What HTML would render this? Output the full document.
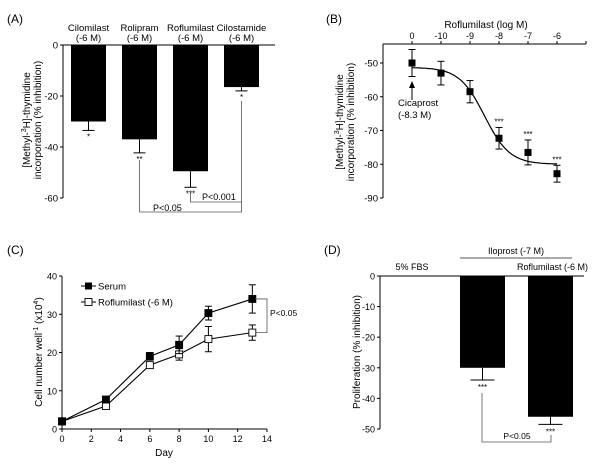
<!DOCTYPE html>
<html><head><meta charset="utf-8"><style>
html,body{margin:0;padding:0;background:#fff}
svg{display:block;font-family:"Liberation Sans",Arial,sans-serif}
</style></head><body>
<svg width="600" height="465" viewBox="0 0 600 465">
<g id="A"></g>
<g id="B"></g>
<g id="C"></g>
<g id="D"></g>
</svg>
<script>
// Panel A data
const aCategories = ["Cilomilast", "Rolipram", "Roflumilast", "Cilostamide"];
const aValues = [-30, -37, -49.5, -16.5];
const aErrors = [3.5, 5.3, 6.3, 1.5];
const aStars = ["*", "**", "***", "*"];
const aTicks = [0, -20, -40, -60];
// Panel B data
const bTickLabels = ["0", "-10", "-9", "-8", "-7", "-6"];
const bValues = [-50, -53, -58.5, -72.3, -76.5, -82.8];
const bErrors = [4, 3.5, 3.3, 3.2, 3.7, 2.5];
const bStars = ["", "", "", "***", "***", "***"];
const bYTicks = [-50, -60, -70, -80, -90];
const bFit = {top: -51.3, bottom: -80, logEC50: -8.5, hill: 1};
// Panel C data
const cDays = [0, 3, 6, 8, 10, 13];
const cSerum = [2, 7.7, 19, 22, 30.3, 34];
const cSerumErr = [0.5, 0.5, 1, 2.3, 1.8, 3.7];
const cRof = [2, 6, 16.7, 19.5, 23.5, 25.2];
const cRofErr = [0.5, 0.5, 0.8, 1.5, 3.3, 2];
const cXTicks = [0, 2, 4, 6, 8, 10, 12, 14];
const cYTicks = [0, 10, 20, 30, 40];
// Panel D data
const dValues = [-30, -46];
const dErrors = [4, 2.5];
const dYTicks = [0, -10, -20, -30, -40, -50];

const NS = "http://www.w3.org/2000/svg";
function mk(parent, tag, attrs, name, text) {
  const el = document.createElementNS(NS, tag);
  for (const k in attrs) el.setAttribute(k, attrs[k]);
  
  
  if (text !== undefined) el.textContent = text;
  parent.appendChild(el);
  return el;
}
function line(p, x1, y1, x2, y2, name, col, w) {
  return mk(p, "line", {x1, y1, x2, y2, stroke: col || "#000", "stroke-width": w || 1}, name);
}
function txt(p, x, y, s, name, opts) {
  opts = opts || {};
  const a = {x, y, "font-size": opts.size || 9.5, "text-anchor": opts.anchor || "middle", fill: "#000"};
  if (opts.rot) a.transform = "rotate(-90 " + x + " " + y + ")";
  return mk(p, "text", a, name, s);
}

// ---------- Panel A ----------
(function () {
  const g = document.getElementById("A");
  const x0 = 63, y0v = 45, k = 153 / 60;
  const ya = v => y0v - v * k;
  const barL = [71, 122, 173, 224], bw = 35;
  txt(g, 7, 23, "(A)", "panel-a-label", {anchor: "start", size: 12});
  line(g, x0, 45, x0, ya(-60), "a-y-axis");
  line(g, x0, 45, 275, 45, "a-zero-line");
  aTicks.forEach(t => {
    line(g, x0 - 3, ya(t), x0, ya(t), "a-y-tick");
    txt(g, x0 - 5, ya(t) + 3.5, String(t), "a-y-tick-label", {anchor: "end"});
  });
  const yl = mk(g, "text", {x: 0, y: 0, "font-size": 10, "text-anchor": "middle", transform: "translate(30 120) rotate(-90)"}, "a-y-axis-title");
  yl.innerHTML = '<tspan x="0" dy="0">[Methyl-<tspan font-size="7" dy="-4">3</tspan><tspan dy="4">H]-thymidine</tspan></tspan><tspan x="0" dy="11">incorporation (% inhibition)</tspan>';
  aCategories.forEach((c, i) => {
    const cx = barL[i] + bw / 2;
    txt(g, cx, 31, c, "a-category-label");
    txt(g, cx, 41, "(-6 M)", "a-category-dose");
    mk(g, "rect", {x: barL[i], y: 45, width: bw, height: ya(aValues[i]) - 45, fill: "#000"}, "a-bar-" + c.toLowerCase());
    const ye = ya(aValues[i] - aErrors[i]);
    line(g, cx, ya(aValues[i]), cx, ye, "a-error-bar");
    line(g, cx - 6, ye, cx + 6, ye, "a-error-cap");
    txt(g, cx, ye + 9, aStars[i], "a-significance-stars", {size: 8});
  });
  const c1 = barL[1] + bw / 2, c2 = barL[2] + bw / 2, c3 = barL[3] + bw / 2;
  mk(g, "polyline", {points: `${c1},160 ${c1},212 ${c3},212 ${c3},101`, fill: "none", stroke: "#555", "stroke-width": 0.8}, "a-bracket-p005");
  mk(g, "polyline", {points: `${c2},192 ${c2},202 ${c3},202`, fill: "none", stroke: "#555", "stroke-width": 0.8}, "a-bracket-p0001");
  txt(g, 153, 211, "P<0.05", "a-p-value-005", {anchor: "start", size: 9});
  txt(g, 202, 200, "P<0.001", "a-p-value-0001", {anchor: "start", size: 9});
})();

// ---------- Panel B ----------
(function () {
  const g = document.getElementById("B");
  const x0 = 383, xs = i => 412 + i * 29;
  const yb = v => 63 - (v + 50) * 3.375;
  txt(g, 326, 23, "(B)", "panel-b-label", {anchor: "start", size: 12});
  line(g, x0, 44, x0, 198, "b-y-axis");
  line(g, x0, 44, 586, 44, "b-top-x-axis");
  line(g, 586, 41, 586, 44, "b-x-axis-end-tick");
  txt(g, 486, 28, "Roflumilast (log M)", "b-x-axis-title", {size: 10});
  bTickLabels.forEach((l, i) => {
    line(g, xs(i), 41, xs(i), 44, "b-x-tick");
    txt(g, xs(i), 39, l, "b-x-tick-label", {size: 9});
  });
  bYTicks.forEach(t => {
    line(g, x0 - 3, yb(t), x0, yb(t), "b-y-tick");
    txt(g, x0 - 5, yb(t) + 3.5, String(t), "b-y-tick-label", {anchor: "end"});
  });
  const yl = mk(g, "text", {x: 0, y: 0, "font-size": 10, "text-anchor": "middle", transform: "translate(343 122) rotate(-90)"}, "b-y-axis-title");
  yl.innerHTML = '<tspan x="0" dy="0">[Methyl-<tspan font-size="7" dy="-4">3</tspan><tspan dy="4">H]-thymidine</tspan></tspan><tspan x="0" dy="11">incorporation (% inhibition)</tspan>';
  let d = "";
  for (let s = 0; s <= 100; s++) {
    const i = s / 20, lx = -11 + i;
    const v = bFit.bottom + (bFit.top - bFit.bottom) / (1 + Math.pow(10, (lx - bFit.logEC50) * bFit.hill));
    d += (s ? "L" : "M") + xs(i).toFixed(1) + " " + yb(v).toFixed(1);
  }
  mk(g, "path", {d, fill: "none", stroke: "#000", "stroke-width": 1.2}, "b-fit-curve");
  bValues.forEach((v, i) => {
    const x = xs(i), e = bErrors[i];
    line(g, x, yb(v + e), x, yb(v - e), "b-error-bar");
    line(g, x - 3.5, yb(v + e), x + 3.5, yb(v + e), "b-error-cap");
    line(g, x - 3.5, yb(v - e), x + 3.5, yb(v - e), "b-error-cap");
    mk(g, "rect", {x: x - 3.5, y: yb(v) - 3.5, width: 7, height: 7, fill: "#000"}, "b-data-point");
    if (bStars[i]) txt(g, x, yb(v + e) - 3, bStars[i], "b-significance-stars", {size: 8});
  });
  line(g, 412, 100, 412, 86, "b-arrow-shaft");
  mk(g, "polygon", {points: "409,88 415,88 412,81", fill: "#000"}, "b-arrow-head");
  txt(g, 398, 106, "Cicaprost", "b-cicaprost-label", {anchor: "start", size: 9.5});
  txt(g, 398, 118, "(-8.3 M)", "b-cicaprost-dose", {anchor: "start", size: 9.5});
})();

// ---------- Panel C ----------
(function () {
  const g = document.getElementById("C");
  const xc = d => 62 + d * 14.64, yc = v => 429 - v * 3.825;
  txt(g, 7, 254, "(C)", "panel-c-label", {anchor: "start", size: 12});
  line(g, 62, yc(40), 62, 429, "c-y-axis");
  line(g, 62, 429, 267, 429, "c-x-axis");
  cXTicks.forEach(t => {
    line(g, xc(t), 429, xc(t), 432, "c-x-tick");
    txt(g, xc(t), 442, String(t), "c-x-tick-label", {size: 9});
  });
  cYTicks.forEach(t => {
    line(g, 59, yc(t), 62, yc(t), "c-y-tick");
    txt(g, 57, yc(t) + 3.5, String(t), "c-y-tick-label", {anchor: "end", size: 9});
  });
  txt(g, 164, 456, "Day", "c-x-axis-title", {size: 10});
  const yl = mk(g, "text", {x: 0, y: 0, "font-size": 10, "text-anchor": "middle", transform: "translate(42 352) rotate(-90)"}, "c-y-axis-title");
  yl.innerHTML = 'Cell number well<tspan font-size="7" dy="-4">-1</tspan><tspan dy="4"> (x10</tspan><tspan font-size="7" dy="-4">4</tspan><tspan dy="4">)</tspan>';
  function series(vals, errs, filled, name) {
    mk(g, "polyline", {points: cDays.map((d, i) => xc(d) + "," + yc(vals[i])).join(" "), fill: "none", stroke: "#000", "stroke-width": 1.1}, name + "-line");
    vals.forEach((v, i) => {
      const x = xc(cDays[i]), e = errs[i];
      line(g, x, yc(v + e), x, yc(v - e), name + "-error-bar");
      line(g, x - 3.5, yc(v + e), x + 3.5, yc(v + e), name + "-error-cap");
      line(g, x - 3.5, yc(v - e), x + 3.5, yc(v - e), name + "-error-cap");
      mk(g, "rect", {x: x - 3.5, y: yc(v) - 3.5, width: 7, height: 7, fill: filled ? "#000" : "#fff", stroke: "#000", "stroke-width": 0.9}, name + "-point");
    });
  }
  series(cRof, cRofErr, false, "c-roflumilast");
  series(cSerum, cSerumErr, true, "c-serum");
  line(g, 81, 286, 96, 286, "c-legend-serum-line");
  mk(g, "rect", {x: 85, y: 282.5, width: 7, height: 7, fill: "#000"}, "c-legend-serum-marker");
  txt(g, 98, 289.5, "Serum", "c-legend-serum-label", {anchor: "start", size: 9.5});
  line(g, 81, 302, 96, 302, "c-legend-rof-line");
  mk(g, "rect", {x: 85, y: 298.5, width: 7, height: 7, fill: "#fff", stroke: "#000", "stroke-width": 0.9}, "c-legend-rof-marker");
  txt(g, 98, 305.5, "Roflumilast (-6 M)", "c-legend-rof-label", {anchor: "start", size: 9.5});
  mk(g, "polyline", {points: `${xc(13.2)},${yc(cSerum[5])} 267,${yc(cSerum[5])} 267,${yc(cRof[5])} ${xc(13.2)},${yc(cRof[5])}`, fill: "none", stroke: "#555", "stroke-width": 0.8}, "c-bracket");
  txt(g, 270, 316, "P<0.05", "c-p-value", {anchor: "start", size: 8.5});
})();

// ---------- Panel D ----------
(function () {
  const g = document.getElementById("D");
  const yd = v => 276 - v * 3.06;
  const barL = [460, 528], bw = 45;
  txt(g, 324, 254, "(D)", "panel-d-label", {anchor: "start", size: 12});
  line(g, 380, 276, 380, yd(-50), "d-y-axis");
  line(g, 380, 276, 584, 276, "d-zero-line");
  dYTicks.forEach(t => {
    line(g, 377, yd(t), 380, yd(t), "d-y-tick");
    txt(g, 375, yd(t) + 3.5, String(t), "d-y-tick-label", {anchor: "end", size: 9});
  });
  txt(g, 360, 352, "Proliferation (% inhibition)", "d-y-axis-title", {rot: true, size: 10});
  txt(g, 412, 270, "5% FBS", "d-label-fbs", {size: 9});
  line(g, 460, 258, 572, 258, "d-iloprost-line", "#555");
  txt(g, 516, 254, "Iloprost (-7 M)", "d-label-iloprost", {size: 9});
  txt(g, 588, 270, "Roflumilast (-6 M)", "d-label-roflumilast", {anchor: "end", size: 9});
  dValues.forEach((v, i) => {
    const cx = barL[i] + bw / 2;
    mk(g, "rect", {x: barL[i], y: 276, width: bw, height: yd(v) - 276, fill: "#000"}, "d-bar");
    const ye = yd(v - dErrors[i]);
    line(g, cx, yd(v), cx, ye, "d-error-bar");
    line(g, cx - 12, ye, cx + 12, ye, "d-error-cap");
    txt(g, cx, ye + 10, "***", "d-significance-stars", {size: 8});
  });
  mk(g, "polyline", {points: "482,393 482,442 551,442 551,435", fill: "none", stroke: "#555", "stroke-width": 0.8}, "d-bracket");
  txt(g, 517, 439, "P<0.05", "d-p-value", {size: 8.5});
})();
</script>
</body></html>
